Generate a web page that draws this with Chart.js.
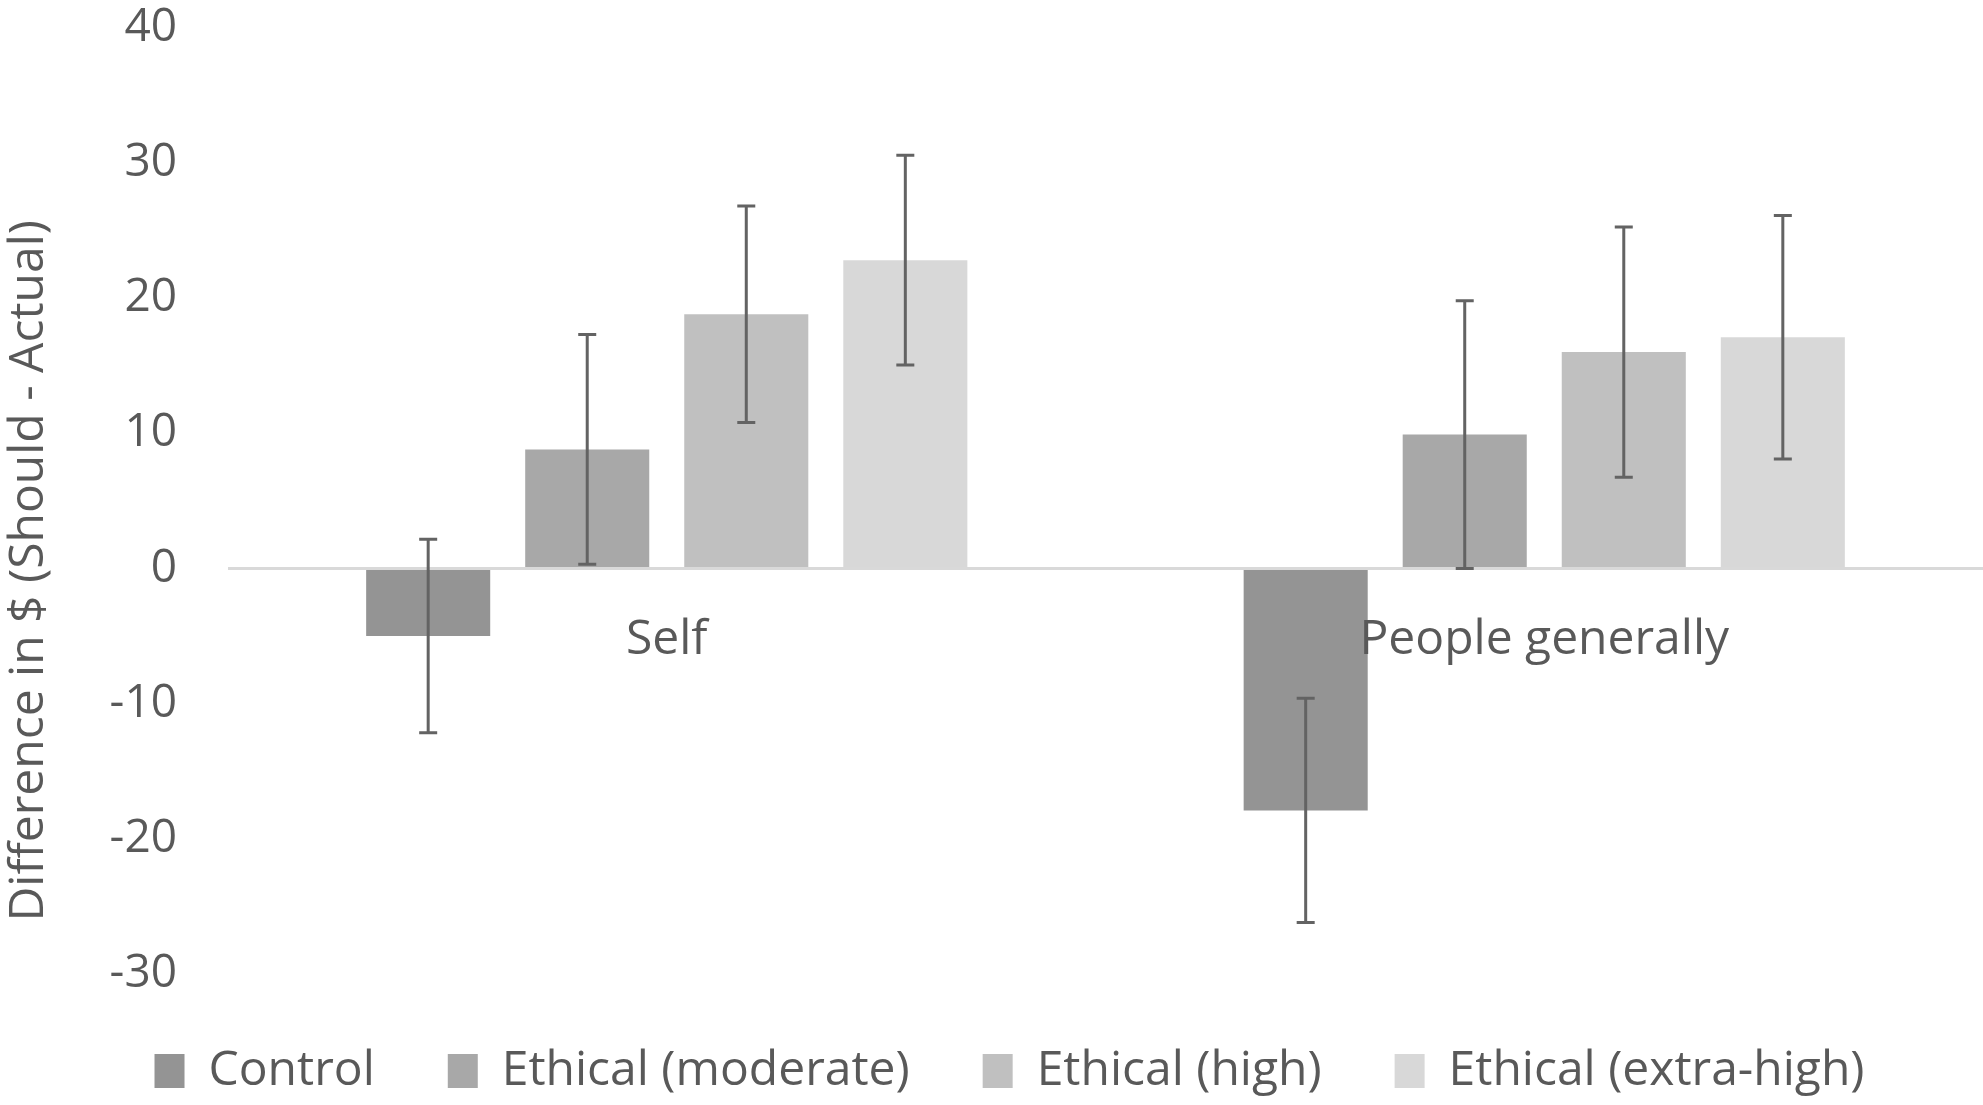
<!DOCTYPE html>
<html lang="en">
<head>
  <meta charset="UTF-8">
  <title>Difference in $ (Should - Actual)</title>
  <script src="https://cdn.jsdelivr.net/npm/chart.js"></script>
  <style>
    html, body { margin: 0; padding: 0; background: #fff; }
    #wrap { width: 1983px; height: 1105px; }
  </style>
</head>
<body>
<div id="wrap"><canvas id="chart"></canvas></div>

<script>
const categories = ['Self', 'People generally'];
const seriesNames = ['Control', 'Ethical (moderate)', 'Ethical (high)', 'Ethical (extra-high)'];
const colors = ['#949494', '#a8a8a8', '#c0c0c0', '#d8d8d8'];

// means per condition, [Self, People generally]
const controlVals = [-5.0, -17.9];
const moderateVals = [8.8, 9.9];
const highVals = [18.8, 16.0];
const extraHighVals = [22.8, 17.1];

// error bar half-lengths
const controlErr = [7.15, 8.3];
const moderateErr = [8.5, 9.9];
const highErr = [8.0, 9.25];
const extraHighErr = [7.75, 9.0];

const yTicks = [-30, -20, -10, 0, 10, 20, 30, 40];
const yTitle = 'Difference in $ (Should - Actual)';

const values = [controlVals, moderateVals, highVals, extraHighVals];
const errors = [controlErr, moderateErr, highErr, extraHighErr];

const textColor = '#595959';
const fontFamily = '"Open Sans", "Noto Sans", sans-serif';

const errorBars = {
  id: 'errorBars',
  afterDatasetsDraw(chart) {
    const ctx = chart.ctx;
    const y = chart.scales.y;
    ctx.save();
    ctx.strokeStyle = '#636363';
    ctx.lineWidth = 3;
    chart.data.datasets.forEach((ds, di) => {
      const meta = chart.getDatasetMeta(di);
      meta.data.forEach((bar, i) => {
        const v = ds.data[i], e = ds.errors[i];
        const yTop = y.getPixelForValue(v + e);
        const yBot = y.getPixelForValue(v - e);
        ctx.beginPath();
        ctx.moveTo(bar.x, yTop); ctx.lineTo(bar.x, yBot);
        ctx.moveTo(bar.x - 9, yTop); ctx.lineTo(bar.x + 9, yTop);
        ctx.moveTo(bar.x - 9, yBot); ctx.lineTo(bar.x + 9, yBot);
        ctx.stroke();
      });
    });
    ctx.restore();
  }
};

// category names sit just under the zero line, axis title drawn by hand
// because Excel centres it a bit below the plot middle
const labelsPlugin = {
  id: 'labelsPlugin',
  afterLayout(chart) {
    // nudge the legend row a little right, like the original
    chart.legend.left += 18;
    chart.legend.right += 18;
  },
  afterDraw(chart) {
    const ctx = chart.ctx;
    const x = chart.scales.x, y = chart.scales.y;
    ctx.save();
    ctx.fillStyle = textColor;
    ctx.font = '48px ' + fontFamily;
    ctx.textAlign = 'center';
    ctx.textBaseline = 'middle';
    categories.forEach((c, i) => {
      ctx.fillText(c, x.getPixelForValue(i), y.getPixelForValue(0) + 72);
    });
    ctx.translate(29, (chart.chartArea.top + chart.chartArea.bottom) / 2 + 70);
    ctx.rotate(-Math.PI / 2);
    ctx.fillText(yTitle, 0, 0);
    ctx.restore();
  }
};

new Chart(document.getElementById('chart'), {
  type: 'bar',
  data: {
    labels: categories,
    datasets: seriesNames.map((name, i) => ({
      label: name,
      data: values[i],
      errors: errors[i],
      backgroundColor: colors[i],
      borderWidth: 0,
      categoryPercentage: 0.725,
      barPercentage: 0.78
    }))
  },
  options: {
    responsive: true,
    maintainAspectRatio: false,
    animation: false,
    devicePixelRatio: 1,
    layout: { padding: { top: 2, left: 0, right: 0, bottom: 0 } },
    plugins: {
      tooltip: { enabled: false },
      legend: {
        position: 'bottom',
        labels: {
          color: textColor,
          font: { size: 48, family: fontFamily },
          boxWidth: 30,
          boxHeight: 34,
          padding: 73
        }
      }
    },
    scales: {
      x: { display: false },
      y: {
        min: -30,
        max: 40,
        afterBuildTicks: s => { s.ticks = yTicks.map(v => ({ value: v })); },
        afterFit: s => { s.width = 228; },
        border: { display: false },
        grid: {
          drawTicks: true,
          tickLength: 51,
          tickColor: 'rgba(0,0,0,0)',
          lineWidth: 3,
          color: c => (c.tick && c.tick.value === 0 ? '#d9d9d9' : 'rgba(0,0,0,0)')
        },
        ticks: {
          color: textColor,
          padding: 0,
          font: { size: 46, family: fontFamily }
        }
      }
    }
  },
  plugins: [errorBars, labelsPlugin]
});
</script>
</body>
</html>
